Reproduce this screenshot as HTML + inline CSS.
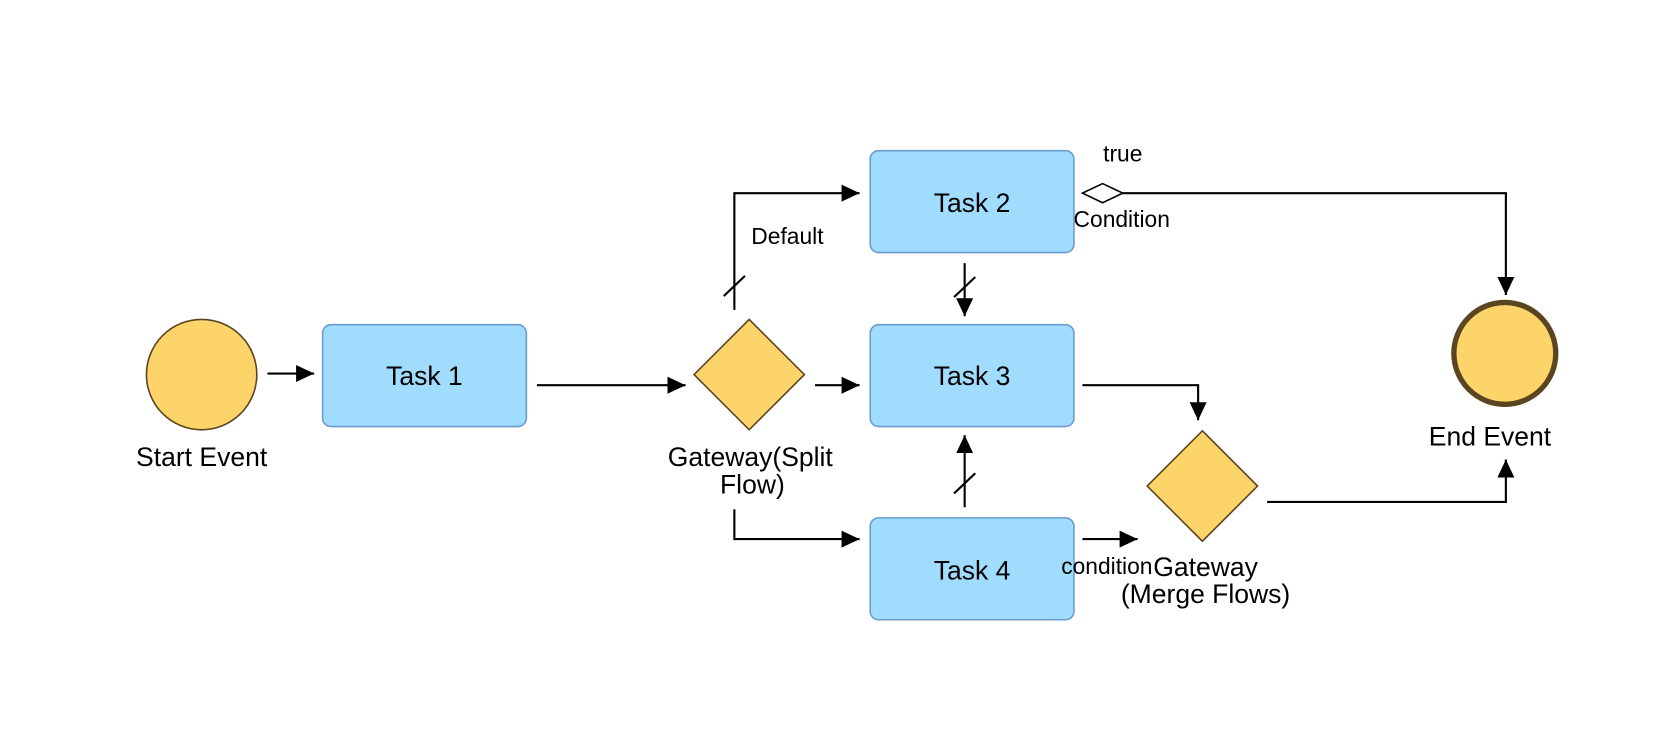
<!DOCTYPE html>
<html><head><style>html,body{margin:0;padding:0;background:#fff;}svg{display:block}</style></head>
<body>
<svg width="1664" height="737" viewBox="0 0 1568 694.5" preserveAspectRatio="none" xmlns="http://www.w3.org/2000/svg" font-family="Liberation Sans, sans-serif">
<defs>
<marker id="a" markerWidth="18" markerHeight="18" refX="17" refY="8" orient="auto" markerUnits="userSpaceOnUse" viewBox="0 0 18 16"><path d="M0,0 L17,8 L0,16 z" fill="#000"/></marker>
</defs>
<rect width="1568" height="694.5" fill="#fff"/>
<g stroke="#000" stroke-width="2" fill="none">
<line x1="252" y1="352" x2="296" y2="352" marker-end="url(#a)"/>
<line x1="506" y1="363" x2="646" y2="363" marker-end="url(#a)"/>
<line x1="768" y1="363" x2="810" y2="363" marker-end="url(#a)"/>
<polyline points="692,292 692,182 810,182" marker-end="url(#a)"/>
<line x1="682" y1="279" x2="702" y2="260"/>
<line x1="909" y1="248" x2="909" y2="298" marker-end="url(#a)"/>
<line x1="899" y1="280" x2="919" y2="261"/>
<line x1="909" y1="478" x2="909" y2="410" marker-end="url(#a)"/>
<line x1="899" y1="465" x2="919" y2="446"/>
<polyline points="692,480 692,508 810,508" marker-end="url(#a)"/>
<polyline points="1058,182 1419,182 1419,278" marker-end="url(#a)"/>
<polyline points="1020,363 1129,363 1129,396" marker-end="url(#a)"/>
<line x1="1020" y1="508" x2="1072" y2="508" marker-end="url(#a)"/>
<polyline points="1194,473 1419,473 1419,433" marker-end="url(#a)"/>
</g>
<polygon points="1020,182 1039,173 1058,182 1039,191" fill="#fff" stroke="#000" stroke-width="1.5"/>
<circle cx="190" cy="353" r="52" fill="#fdd46a" stroke="#5a4520" stroke-width="1.5"/>
<circle cx="1418" cy="333" r="48" fill="#fdd46a" stroke="#5a4520" stroke-width="5"/>
<g fill="#a0dcfe" stroke="#6c9bd2" stroke-width="1.5">
<rect x="304" y="306" width="192" height="96" rx="8"/>
<rect x="820" y="142" width="192" height="96" rx="8"/>
<rect x="820" y="306" width="192" height="96" rx="8"/>
<rect x="820" y="488" width="192" height="96" rx="8"/>
</g>
<polygon points="706,301 758,353 706,405 654,353" fill="#fdd46a" stroke="#5a4520" stroke-width="1.5"/>
<polygon points="1133,406 1185,458 1133,510 1081,458" fill="#fdd46a" stroke="#5a4520" stroke-width="1.5"/>
<g fill="#000" text-anchor="middle" font-size="25">
<text x="400" y="363">Task 1</text>
<text x="916" y="200">Task 2</text>
<text x="916" y="363">Task 3</text>
<text x="916" y="546">Task 4</text>
<text x="190" y="439">Start Event</text>
<text x="1404" y="420">End Event</text>
<text x="707" y="439">Gateway(Split</text>
<text x="709" y="465">Flow)</text>
<text x="1136" y="543">Gateway</text>
<text x="1136" y="568">(Merge Flows)</text>
</g>
<g fill="#000" text-anchor="middle" font-size="21.5">
<text x="742" y="230">Default</text>
<text x="1058" y="152">true</text>
<text x="1057" y="214">Condition</text>
<text x="1043" y="541">condition</text>
</g>
</svg>
</body></html>
